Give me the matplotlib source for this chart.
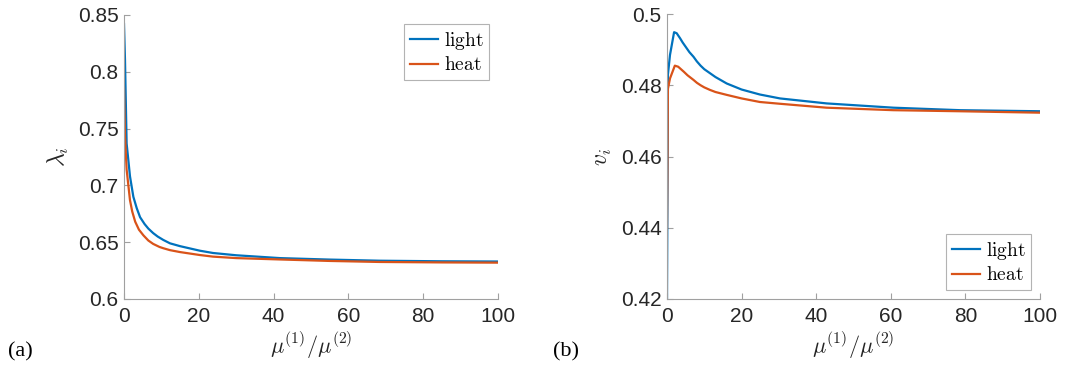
import matplotlib
matplotlib.use("Agg")
import matplotlib.pyplot as plt
import numpy as np

# ---- data ----
x_lam = [0, 0.27, 0.7, 1.6, 2.5, 3.4, 4.3, 5.5, 6.5, 7.8, 9.0, 10.5, 12.3, 15, 20.3, 23.8, 30, 41.7, 55, 68.4, 85, 100]
lam_light = [0.842, 0.810, 0.737, 0.708, 0.690, 0.680, 0.672, 0.666, 0.662, 0.658, 0.655, 0.652, 0.649, 0.6465, 0.6425, 0.6405, 0.6385, 0.636, 0.6347, 0.6337, 0.6332, 0.633]
x_lam_h = [0, 0.27, 0.7, 1.6, 2.2, 3.0, 4.0, 5.2, 6.5, 7.8, 9.5, 10.5, 12.3, 15, 20.3, 23.8, 30, 41.7, 55, 68.4, 85, 100]
lam_heat = [0.786, 0.743, 0.714, 0.687, 0.677, 0.668, 0.661, 0.656, 0.6515, 0.6485, 0.6458, 0.6447, 0.643, 0.6413, 0.6387, 0.6373, 0.636, 0.6348, 0.6335, 0.6326, 0.6322, 0.632]

x_v = [0, 0.25, 0.8, 1.9, 2.6, 3.5, 4.2, 5.0, 6.0, 7.1, 8.0, 9.0, 10.0, 11.5, 13, 16, 20, 24.9, 30.3, 42.8, 60.7, 78.6, 100]
v_light = [0.420, 0.483, 0.4885, 0.4949, 0.4946, 0.4932, 0.4920, 0.4908, 0.4893, 0.4880, 0.4867, 0.4855, 0.4845, 0.4834, 0.4823, 0.4805, 0.4788, 0.4774, 0.4763, 0.4749, 0.4737, 0.4730, 0.4727]
x_vh = [0, 0.25, 0.8, 2.1, 3.0, 4.5, 5.5, 7.1, 8.0, 9.0, 10.0, 11.5, 13, 16, 20, 24.9, 30.3, 42.8, 60.7, 78.6, 100]
v_heat = [0.440, 0.479, 0.4819, 0.4855, 0.4852, 0.4838, 0.4828, 0.4815, 0.4807, 0.4800, 0.4794, 0.4787, 0.4781, 0.4773, 0.4763, 0.4753, 0.4748, 0.4737, 0.4730, 0.4727, 0.4723]

series_names = ["light", "heat"]
colors = ["#0072BD", "#D95319"]

plt.rcParams["mathtext.fontset"] = "cm"
plt.rcParams["font.family"] = ["Liberation Sans", "DejaVu Sans"]

fig = plt.figure(figsize=(10.7, 3.7), dpi=100)
W, H = 1070, 370

def mkax(l, r, t, b):
    return fig.add_axes([l / W, 1 - b / H, (r - l) / W, (b - t) / H])

axL = mkax(124, 498, 15, 299)
axR = mkax(667, 1040, 14, 299)

def style(ax):
    for s in ["top", "right"]:
        ax.spines[s].set_visible(False)
    for s in ["left", "bottom"]:
        ax.spines[s].set_color("#a0a0a0")
        ax.spines[s].set_linewidth(0.8)
    ax.tick_params(direction="in", color="#a0a0a0", labelcolor="#262626",
                   labelsize=15, length=4, width=0.8)
    ax.tick_params(axis="x", pad=6)
    ax.tick_params(axis="y", pad=4)

axL.plot(x_lam, lam_light, color=colors[0], lw=1.6, label=series_names[0])
axL.plot(x_lam_h, lam_heat, color=colors[1], lw=1.6, label=series_names[1])
axL.set_xlim(0, 100)
axL.set_ylim(0.6, 0.85)
axL.set_xticks([0, 20, 40, 60, 80, 100])
axL.set_yticks([0.6, 0.65, 0.7, 0.75, 0.8, 0.85])
axL.set_yticklabels(["0.6", "0.65", "0.7", "0.75", "0.8", "0.85"])
style(axL)
axL.set_ylabel(r"$\lambda_i$", fontsize=17, color="#262626", labelpad=5)
axL.set_xlabel(r"$\mu^{(1)}/\mu^{(2)}$", fontsize=16, color="#262626", labelpad=3)

axR.plot(x_v, v_light, color=colors[0], lw=1.6, label=series_names[0])
axR.plot(x_vh, v_heat, color=colors[1], lw=1.6, label=series_names[1])
axR.set_xlim(0, 100)
axR.set_ylim(0.42, 0.5)
axR.set_xticks([0, 20, 40, 60, 80, 100])
axR.set_yticks([0.42, 0.44, 0.46, 0.48, 0.5])
axR.set_yticklabels(["0.42", "0.44", "0.46", "0.48", "0.5"])
style(axR)
axR.set_ylabel(r"$v_i$", fontsize=17, color="#262626", labelpad=5)
axR.set_xlabel(r"$\mu^{(1)}/\mu^{(2)}$", fontsize=16, color="#262626", labelpad=3)

for ax, loc in [(axL, "upper right"), (axR, "lower right")]:
    leg = ax.legend(loc=loc, prop={"size": 14}, frameon=True,
                    fancybox=False, handlelength=1.45, handletextpad=0.3,
                    borderpad=0.3, labelspacing=0.25, borderaxespad=0.45)
    leg.get_frame().set_edgecolor("#a0a0a0")
    leg.get_frame().set_linewidth(0.8)
    for t, n in zip(leg.get_texts(), series_names):
        t.set_text(r"$\mathrm{" + n + "}$")

fig.text(8 / W, 1 - 352 / H, "(a)", fontsize=16, family="Liberation Serif", va="center")
fig.text(553 / W, 1 - 352 / H, "(b)", fontsize=16, family="Liberation Serif", va="center")

fig.savefig("out.png", dpi=100)
